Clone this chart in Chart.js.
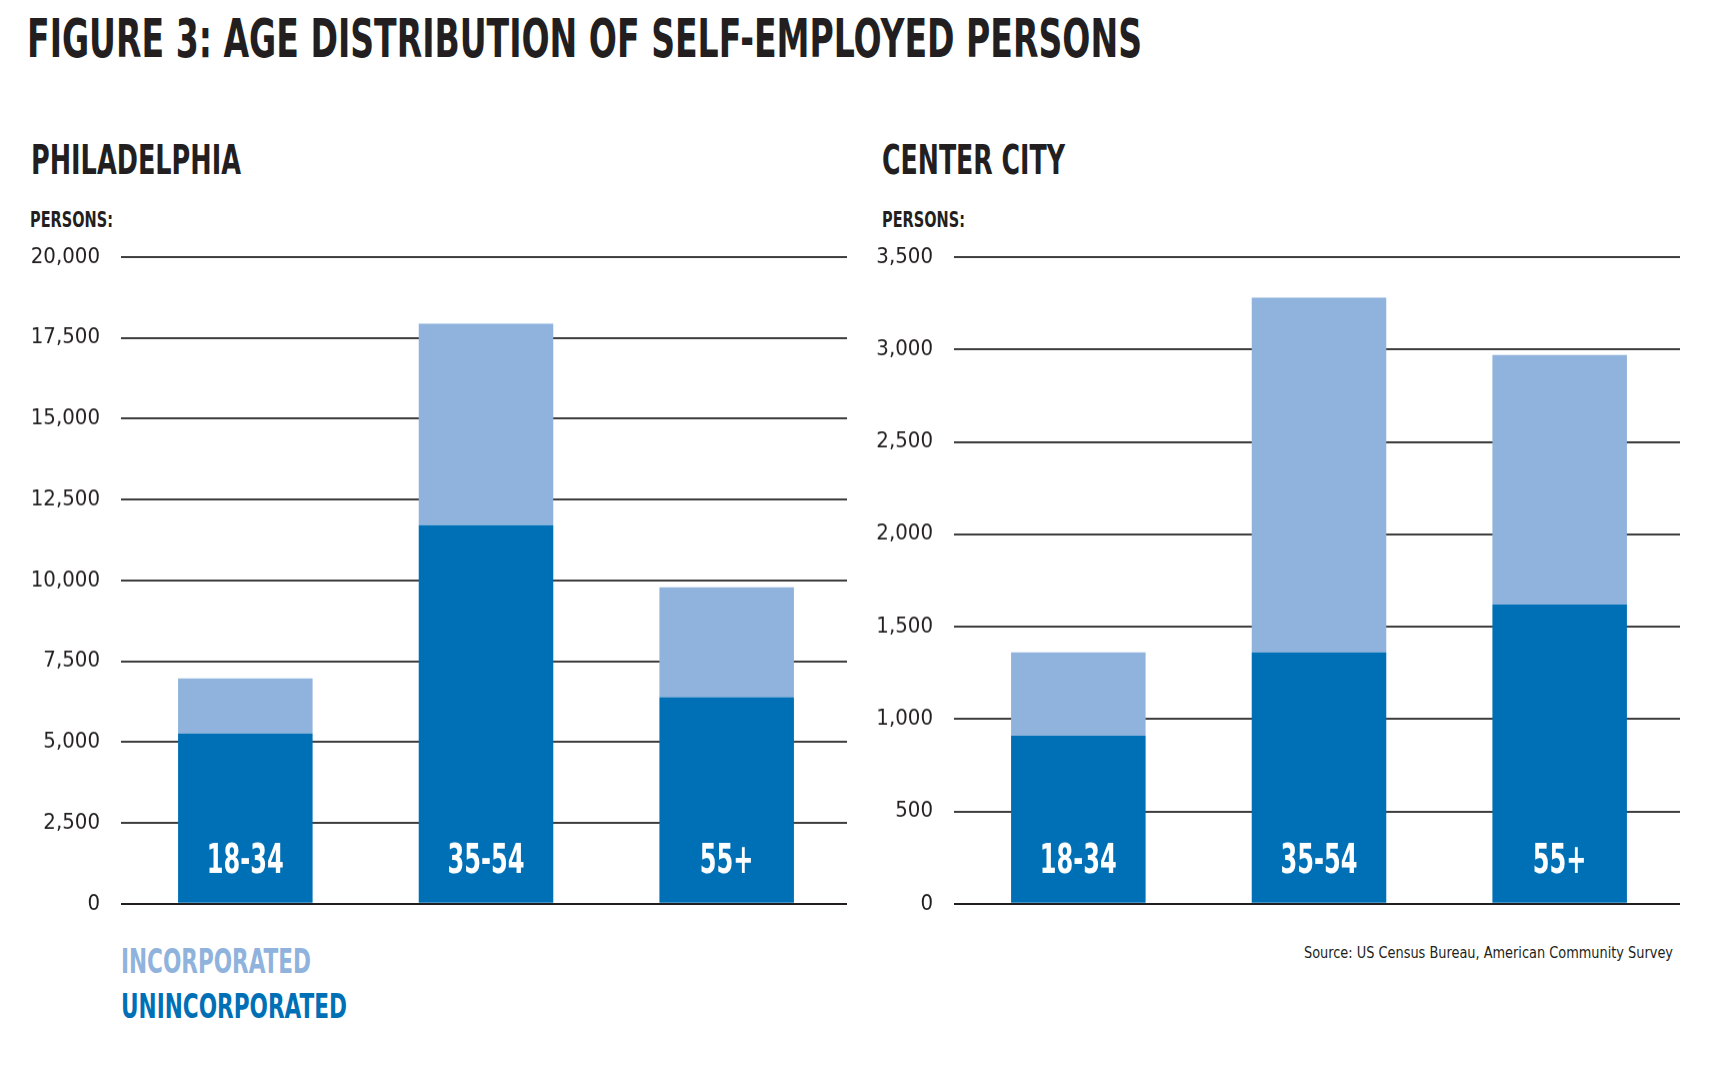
<!DOCTYPE html>
<html>
<head>
<meta charset="utf-8">
<title>Figure 3: Age distribution of self-employed persons</title>
<script src="https://cdn.jsdelivr.net/npm/chart.js@4.4.1/dist/chart.umd.min.js"></script>
<style>
  html, body {
    margin: 0;
    padding: 0;
    background: #ffffff;
  }
  body {
    position: relative;
    width: 1718px;
    height: 1068px;
    overflow: hidden;
    font-family: "Liberation Sans Narrow", "DejaVu Sans Condensed", sans-serif;
    color: #231f20;
  }
  .txt {
    position: absolute;
    white-space: nowrap;
    line-height: 1;
    transform-origin: left top;
  }
  .bold { font-weight: bold; }
  .box {
    position: absolute;
    top: 217.4px;
    width: 870px;
    height: 722.6px;
  }
</style>
</head>
<body>
  <div class="txt bold" id="title" style="left:27px; top:12px; font-size:53px;">FIGURE 3: AGE DISTRIBUTION OF SELF-EMPLOYED PERSONS</div>

  <div class="txt bold" id="leftTitle" style="left:31px; top:140px; font-size:41px;">PHILADELPHIA</div>
  <div class="txt bold" id="rightTitle" style="left:882px; top:140px; font-size:41px;">CENTER CITY</div>

  <div class="txt bold" id="leftUnit" style="left:30px; top:209px; font-size:21.5px;">PERSONS:</div>
  <div class="txt bold" id="rightUnit" style="left:882px; top:209px; font-size:21.5px;">PERSONS:</div>

  <div class="box" style="left:0px;"><canvas id="phillyChart"></canvas></div>
  <div class="box" style="left:830px;"><canvas id="centerChart"></canvas></div>

  <div class="txt bold" id="legendInc" style="left:121px; top:944px; font-size:34px; color:#8fb3dc;">INCORPORATED</div>
  <div class="txt bold" id="legendUninc" style="left:121px; top:989px; font-size:34px; color:#0070b6;">UNINCORPORATED</div>

  <div class="txt" id="source" style="left:1304px; top:946px; font-size:15px;">Source: US Census Bureau, American Community Survey</div>

<script>
// Age groups
const categories = ['18-34', '35-54', '55+'];

// Philadelphia (persons)
const phillyUnincorporated = [5270, 11710, 6390];
const phillyIncorporated = [1700, 6230, 3400];
const phillyMax = 20000;
const phillyStep = 2500;

// Center City (persons)
const centerUnincorporated = [910, 1360, 1620];
const centerIncorporated = [450, 1920, 1350];
const centerMax = 3500;
const centerStep = 500;

const colors = {
  text: '#231f20',
  grid: '#3d3d3d',
  base: '#231f20',
  incorporated: '#8fb3dc',
  unincorporated: '#0070b6'
};

const fontFamily = '"Liberation Sans Narrow", "DejaVu Sans Condensed", sans-serif';

// Age group labels drawn inside the bottom of each bar
const barLabels = {
  id: 'barLabels',
  afterDatasetsDraw(chart) {
    const { ctx, chartArea, scales } = chart;
    ctx.save();
    ctx.font = 'bold 40px ' + fontFamily;
    ctx.fillStyle = '#ffffff';
    ctx.textAlign = 'center';
    ctx.textBaseline = 'alphabetic';
    const squeeze = 77 / ctx.measureText('18-34').width;
    categories.forEach((label, i) => {
      const x = scales.x.getPixelForValue(i);
      const y = chartArea.bottom - 30.5;
      ctx.save();
      ctx.translate(x, y);
      ctx.scale(squeeze, 1);
      ctx.fillText(label, 0, 0);
      ctx.restore();
    });
    ctx.restore();
  }
};

function makeChart(id, unincorporated, incorporated, max, step, axisWidth, padRight) {
  const ctx = document.getElementById(id).getContext('2d');
  return new Chart(ctx, {
    type: 'bar',
    data: {
      labels: categories,
      datasets: [{
        label: 'Unincorporated',
        data: unincorporated,
        backgroundColor: colors.unincorporated,
        borderWidth: 0
      }, {
        label: 'Incorporated',
        data: incorporated,
        backgroundColor: colors.incorporated,
        borderWidth: 0
      }]
    },
    options: {
      responsive: true,
      maintainAspectRatio: false,
      animation: false,
      devicePixelRatio: 1,
      layout: {
        padding: { left: 0, top: 40, right: padRight, bottom: 36.8 }
      },
      datasets: {
        bar: { categoryPercentage: 1, barPercentage: 0.559 }
      },
      plugins: {
        legend: { display: false },
        tooltip: { enabled: false }
      },
      scales: {
        x: {
          stacked: true,
          display: false
        },
        y: {
          stacked: true,
          min: 0,
          max: max,
          border: { display: false },
          afterFit(scale) { scale.width = axisWidth; },
          grid: {
            drawTicks: true,
            tickLength: 4,
            lineWidth: 2,
            color: c => c.tick && c.tick.value === 0 ? colors.base : colors.grid
          },
          ticks: {
            stepSize: step,
            padding: 21,
            color: colors.text,
            font: { family: fontFamily, size: 22 },
            callback: v => v.toLocaleString('en-US')
          }
        }
      }
    },
    plugins: [barLabels]
  });
}

makeChart('phillyChart', phillyUnincorporated, phillyIncorporated, phillyMax, phillyStep, 125, 23);
makeChart('centerChart', centerUnincorporated, centerIncorporated, centerMax, centerStep, 128, 20);

// Squeeze headings to the condensed widths of the original
function fitWidth(id, width) {
  const el = document.getElementById(id);
  const w = el.getBoundingClientRect().width;
  el.style.transform = 'scaleX(' + (width / w) + ')';
}

function fitAll() {
  fitWidth('title', 1115);
  fitWidth('leftTitle', 210);
  fitWidth('rightTitle', 183);
  fitWidth('leftUnit', 83);
  fitWidth('rightUnit', 83);
  fitWidth('legendInc', 190);
  fitWidth('legendUninc', 226);
  fitWidth('source', 369);
}

fitAll();
</script>
</body>
</html>
